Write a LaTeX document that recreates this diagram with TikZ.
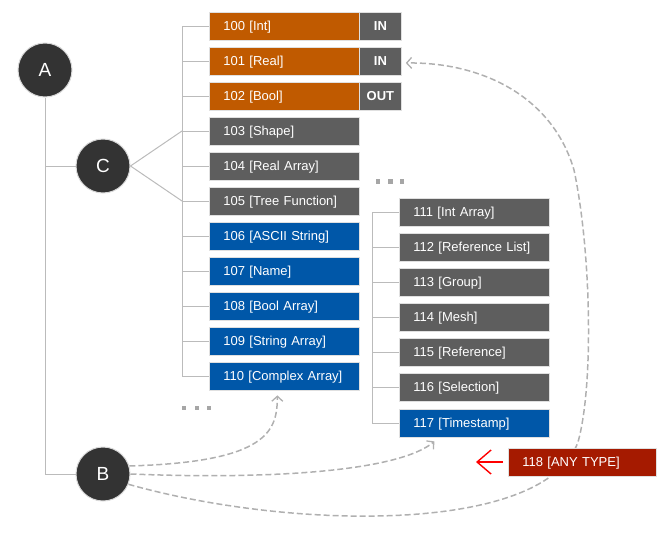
\documentclass[tikz,border=0pt]{standalone}
\usepackage{fontspec}
\setmainfont{Liberation Sans}
\usepackage{tikz}
\usetikzlibrary{shapes}
\usetikzlibrary{calc}
\usetikzlibrary{positioning}
\usetikzlibrary{arrows.meta}

\definecolor{orangebox}{HTML}{C05A00}
\definecolor{bluebox}{HTML}{0057A8}
\definecolor{greybox}{HTML}{5E5E5E}
\definecolor{redbox}{HTML}{A51A00}
\definecolor{darkball}{HTML}{333333}
\definecolor{treeline}{HTML}{BBBBBB}
\definecolor{dashline}{HTML}{B0B0B0}

\tikzset{
  ball/.style={circle, draw=black!15, line width=1pt, fill=darkball, text=white, minimum size=54pt, inner sep=0pt, font=\fontsize{19}{21}\selectfont},
  typebox/.style={draw=black!12, line width=0.8pt, text=white, anchor=west, minimum height=28pt, text width=122pt, inner xsep=14pt, inner ysep=0pt, align=left, text depth=1pt, font=\fontsize{13}{15}\selectfont},
  flagbox/.style={draw=black!12, line width=0.8pt, fill=greybox, text=white, anchor=west, minimum height=28pt, minimum width=42pt, inner sep=0pt, font=\fontsize{13}{15}\selectfont\bfseries},
  anybox/.style={typebox, fill=redbox, text width=120pt},
  tree/.style={draw=treeline, line width=1pt},
  link/.style={draw=dashline, line width=1.5pt, dash pattern=on 6pt off 3pt, -{Straight Barb[length=5pt,width=11pt,line width=1.3pt]}},
  hint/.style={draw=red, line width=1.4pt, -{Straight Barb[length=14pt,width=24pt,line width=1.4pt]}}
}

\begin{document}
\begin{tikzpicture}[x=1pt,y=-1pt]
\useasboundingbox (0,0) rectangle (670,533);

\node[ball] (nA) at (45,70) {A};
\node[ball] (nC) at (103,166) {C};
\node[ball] (nB) at (103,474) {B};

\node[typebox, fill=orangebox] (t100) at (209,26) {100 [Int]};
\node[typebox, fill=orangebox] (t101) at (209,61) {101 [Real]};
\node[typebox, fill=orangebox] (t102) at (209,96) {102 [Bool]};
\node[typebox, fill=greybox] (t103) at (209,131) {103 [Shape]};
\node[typebox, fill=greybox] (t104) at (209,166) {104 [Real Array]};
\node[typebox, fill=greybox] (t105) at (209,201) {105 [Tree Function]};
\node[typebox, fill=bluebox] (t106) at (209,236) {106 [ASCII String]};
\node[typebox, fill=bluebox] (t107) at (209,271) {107 [Name]};
\node[typebox, fill=bluebox] (t108) at (209,306) {108 [Bool Array]};
\node[typebox, fill=bluebox] (t109) at (209,341) {109 [String Array]};
\node[typebox, fill=bluebox] (t110) at (209,376) {110 [Complex Array]};

\node[flagbox] (in100) at (359,26) {IN};
\node[flagbox] (in101) at (359,61) {IN};
\node[flagbox] (out102) at (359,96) {OUT};

\node[typebox, fill=greybox] (t111) at (399,212) {111 [Int Array]};
\node[typebox, fill=greybox] (t112) at (399,247) {112 [Reference List]};
\node[typebox, fill=greybox] (t113) at (399,282) {113 [Group]};
\node[typebox, fill=greybox] (t114) at (399,317) {114 [Mesh]};
\node[typebox, fill=greybox] (t115) at (399,352) {115 [Reference]};
\node[typebox, fill=greybox] (t116) at (399,387) {116 [Selection]};
\node[typebox, fill=bluebox] (t117) at (399,423) {117 [Timestamp]};

% tree from A
\draw[tree] (nA.south) |- (nB.west);
\draw[tree] (nA |- nC) -- (nC.west);

% left column bracket
\draw[tree] (t100.west) -- ++(-27,0) |- (t110.west);
\draw[tree] (t101.west) -- ++(-27,0);
\draw[tree] (t102.west) -- ++(-27,0);
\draw[tree] (t103.west) -- ++(-27,0) coordinate (c103);
\draw[tree] (t104.west) -- ++(-27,0);
\draw[tree] (t105.west) -- ++(-27,0) coordinate (c105);
\draw[tree] (t106.west) -- ++(-27,0);
\draw[tree] (t107.west) -- ++(-27,0);
\draw[tree] (t108.west) -- ++(-27,0);
\draw[tree] (t109.west) -- ++(-27,0);
\draw[tree] (nC.east) -- (c103);
\draw[tree] (nC.east) -- (c105);

% right column bracket
\draw[tree] (t111.west) -- ++(-27,0) |- (t117.west);
\draw[tree] (t112.west) -- ++(-27,0);
\draw[tree] (t113.west) -- ++(-27,0);
\draw[tree] (t114.west) -- ++(-27,0);
\draw[tree] (t115.west) -- ++(-27,0);
\draw[tree] (t116.west) -- ++(-27,0);

% dots
\foreach \x in {378,390.5,402} \fill[black!35] (\x-2.2,179.3) rectangle (\x+2.2,183.7);
\foreach \x in {184,197,209} \fill[black!35] (\x-2.2,405.8) rectangle (\x+2.2,410.2);

% links from B
\draw[link] (nB.17) .. controls (270,462) and (277,430) .. ([xshift=-7pt,yshift=-5pt]t110.south);
\draw[link] (nB.0) .. controls (280,480) and (400,470) .. ([xshift=-40pt,yshift=-4pt]t117.south);
\draw[link] (nB.338) .. controls (290,530) and (545,535) .. (578,442)
  .. controls (594,385) and (591,250) .. (574,170)
  .. controls (552,95) and (480,62) .. ([xshift=4pt,yshift=-2pt]in101.east);

% any type, on top of the long link
\node[anybox] (t118) at (508,462) {118 [ANY TYPE]};
\coordinate (anyin) at (476,462);
\draw[hint] ([xshift=-5pt]t118.west) -- (anyin);
\end{tikzpicture}
\end{document}
